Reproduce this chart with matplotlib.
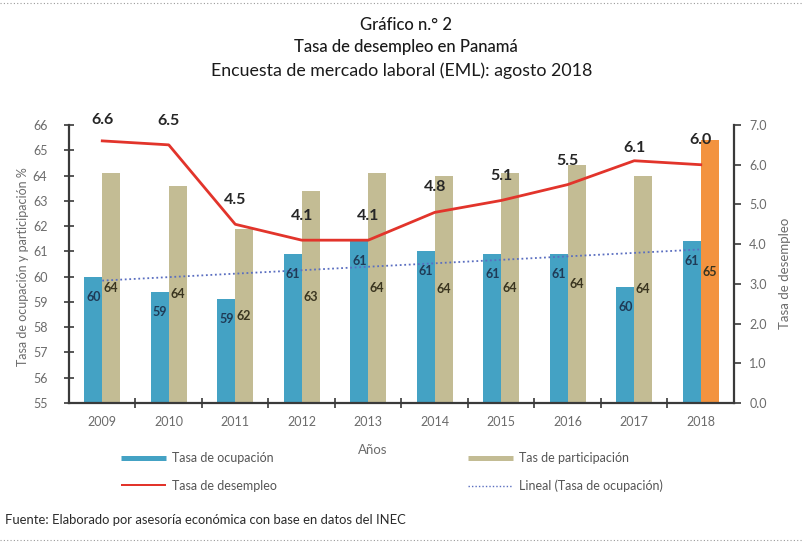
import numpy as np
import matplotlib
matplotlib.use("Agg")
import matplotlib.pyplot as plt
from matplotlib.lines import Line2D

# ---------------- data ----------------
years = ["2009", "2010", "2011", "2012", "2013", "2014", "2015", "2016", "2017", "2018"]
ocupacion = [60.0, 59.4, 59.1, 60.9, 61.4, 61.0, 60.9, 60.9, 59.6, 61.4]
participacion = [64.1, 63.6, 61.9, 63.4, 64.1, 64.0, 64.1, 64.4, 64.0, 65.4]
desempleo = [6.6, 6.5, 4.5, 4.1, 4.1, 4.8, 5.1, 5.5, 6.1, 6.0]
left_ticks = list(range(55, 67))
right_ticks = [0, 1, 2, 3, 4, 5, 6, 7]

title1 = "Gráfico n.° 2"
title2 = "Tasa de desempleo en Panamá"
title3 = "Encuesta de mercado laboral (EML): agosto 2018"
source = "Fuente: Elaborado por asesoría económica con base en datos del INEC"

# ---------------- style ----------------
W, H = 803, 546
FONT = "Lato"
plt.rcParams["font.family"] = [FONT, "DejaVu Sans"]
C_BLUE = "#44A2C4"
C_TAN = "#C3BC94"
C_ORANGE = "#F3933F"
C_RED = "#E2342B"
C_TREND = "#5A6EC0"
C_GREY = "#6B6B6B"
C_AX = "#3A3A3A"
tan_colors = [C_TAN] * (len(years) - 1) + [C_ORANGE]
label_dy_px = [21, 24, 24, 24, 24, 25, 24, 24, 13, 25]

fig = plt.figure(figsize=(W / 100, H / 100), dpi=100)
fig.patch.set_facecolor("white")

def fx(px):
    return px / W

def fy(py):
    return 1 - py / H

ax = fig.add_axes([fx(69), fy(403), (734 - 69) / W, (403 - 125) / H])
ax2 = ax.twinx()

x = np.arange(len(years))
bw = 0.27
b1 = ax.bar(x - bw / 2, np.array(ocupacion) - 55, bottom=55, width=bw, color=C_BLUE, zorder=2)
b2 = ax.bar(x + bw / 2, np.array(participacion) - 55, bottom=55, width=bw, color=tan_colors, zorder=2)

# bar labels
for xi, v in zip(x, ocupacion):
    ax.annotate(f"{v:.0f}", (xi - bw / 2, v), xytext=(0, -20 * 0.72), textcoords="offset points",
                ha="center", va="center", fontsize=9, fontweight="bold", color="#1F3B57", zorder=5)
for xi, v in zip(x, participacion):
    ax.annotate(f"{v:.0f}", (xi + bw / 2, (55 + v) / 2), ha="center", va="center",
                fontsize=9, fontweight="bold", color="#3A3520", zorder=5)

# linear trend of ocupacion
coef = np.polyfit(x, ocupacion, 1)
ax.plot(x, np.polyval(coef, x), color=C_TREND, lw=1.3, ls=(0, (1, 1.5)), zorder=4)

ax.set_xlim(-0.5, len(years) - 0.5)
ax.set_ylim(55, 66)
ax.set_yticks(left_ticks)
ax.set_xticks(x)
ax.set_xticklabels(years)
ax.set_xticks(np.arange(0.5, len(years) - 0.5, 1), minor=True)
ax.tick_params(axis="x", which="major", length=0, pad=9, labelsize=9, labelcolor=C_GREY)
ax.tick_params(axis="x", which="minor", length=7, direction="inout", color=C_AX, width=1.2)
ax.tick_params(axis="y", which="major", length=7, direction="inout", pad=12, labelsize=9,
               labelcolor=C_GREY, color=C_AX, width=1.2)

for s in ["top", "right"]:
    ax.spines[s].set_visible(False)
for s in ["left", "bottom"]:
    ax.spines[s].set_color(C_AX)
    ax.spines[s].set_linewidth(1.6)

ax.set_ylabel("Tasa de ocupación y participación %", fontsize=9, color=C_GREY, va="center")
ax.yaxis.set_label_coords((23 - 69) / 665, (403 - 267) / 278)
ax.set_xlabel("Años", fontsize=9.5, color=C_GREY, va="center")
ax.xaxis.set_label_coords((373 - 69) / 665, (403 - 450) / 278)

# unemployment line on right axis
ax2.plot(x, desempleo, color=C_RED, lw=2, zorder=5)
for xi, v, dy in zip(x, desempleo, label_dy_px):
    ax2.annotate(f"{v:.1f}", (xi, v), xytext=(0, dy * 0.72), textcoords="offset points",
                 ha="center", va="center", fontsize=11.5, fontweight="bold", color="#262626")
ax2.set_ylim(0, 7)
ax2.set_yticks(right_ticks)
ax2.set_yticklabels([f"{t:.1f}" for t in right_ticks])
ax2.tick_params(axis="y", length=5, direction="out", pad=6, labelsize=9, labelcolor=C_GREY,
                color=C_AX, width=1.2)
for s in ["top", "left", "bottom"]:
    ax2.spines[s].set_visible(False)
ax2.spines["right"].set_color(C_AX)
ax2.spines["right"].set_linewidth(1.6)
ax2.set_ylabel("Tasa de desempleo", fontsize=9.5, color=C_GREY, va="center", rotation=90)
ax2.yaxis.set_label_coords((785 - 69) / 665, (403 - 273) / 278)

# legends
fs_leg = 9
h_blue = Line2D([], [], color=C_BLUE, lw=5 * 0.72, solid_capstyle="butt")
h_tan = Line2D([], [], color=C_TAN, lw=5 * 0.72, solid_capstyle="butt")
h_red = Line2D([], [], color=C_RED, lw=2 * 0.72, solid_capstyle="butt")
h_trend = Line2D([], [], color=C_TREND, lw=1.0, ls=(0, (1, 1.5)))
common = dict(loc="upper left", frameon=False, fontsize=fs_leg, handlelength=3.6,
              handletextpad=0.45, labelspacing=1.25, borderpad=0, borderaxespad=0,
              labelcolor="#555555")
leg1 = fig.legend([h_blue, h_red], ["Tasa de ocupación", "Tasa de desempleo"],
                  bbox_to_anchor=(fx(121), fy(452)), **common)
leg2 = fig.legend([h_tan, h_trend], ["Tas de participación", "Lineal (Tasa de ocupación)"],
                  bbox_to_anchor=(fx(468), fy(452)), **common)

# titles
fig.text(0.505, fy(25), title1, ha="center", va="center", fontsize=12, fontweight="medium", color="#1a1a1a")
fig.text(0.505, fy(47), title2, ha="center", va="center", fontsize=12, fontweight="medium", color="#1a1a1a")
fig.text(0.5, fy(71), title3, ha="center", va="center", fontsize=12.8, color="#1a1a1a")
fig.text(fx(5), fy(520), source, ha="left", va="center", fontsize=9.4, color="#2a2a2a")

# dotted separators
for yy in [3, 540]:
    fig.add_artist(Line2D([0, 1], [fy(yy), fy(yy)], transform=fig.transFigure,
                          color="#9a9a9a", lw=0.8, ls=(0, (1, 2))))

fig.savefig("out.png", dpi=100, facecolor="white")
